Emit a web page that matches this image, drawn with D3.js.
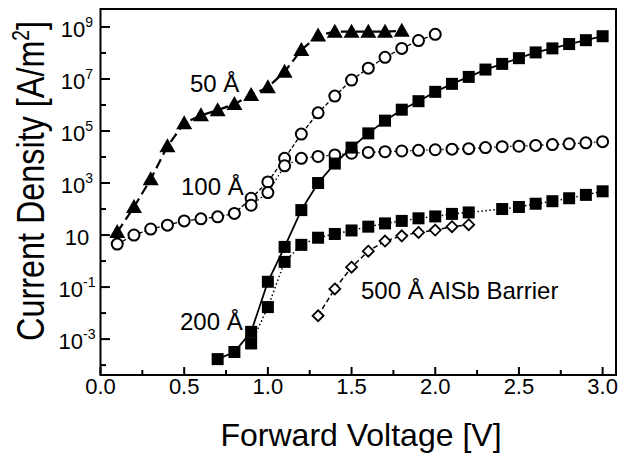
<!DOCTYPE html>
<html>
<head>
<meta charset="utf-8">
<script src="https://cdn.jsdelivr.net/npm/d3@7"></script>
<style>
  body { margin: 0; background: #fff; }
  svg { display: block; font-family: "Liberation Sans", Arial, sans-serif; }
</style>
</head>
<body>
<div id="chart"></div>
<script>
// 50 A barrier (filled triangles)
const v50 = [0.1, 0.2, 0.3, 0.4, 0.5, 0.6, 0.7, 0.8, 0.9, 1.0, 1.1, 1.2, 1.3, 1.4, 1.5, 1.6, 1.7, 1.8];
const j50 = [1.3e1, 1.2e2, 1.4e3, 2.6e4, 2.0e5, 4.0e5, 6.3e5, 1.1e6, 2.4e6, 4.8e6, 1.9e7, 1.3e8, 4.7e8, 6.6e8, 6.6e8, 6.6e8, 6.6e8, 7.1e8];

// 100 A barrier (open circles), rising branch and flat branch
const v100a = [0.1, 0.2, 0.3, 0.4, 0.5, 0.6, 0.7, 0.8, 0.9, 1.0, 1.1, 1.2, 1.3, 1.4, 1.5, 1.6, 1.7, 1.8, 1.9, 2.0];
const j100a = [4.5, 10, 17, 24, 35, 42, 50, 68, 2.6e2, 1.1e3, 8.9e3, 7.6e4, 5.0e5, 2.2e6, 9.1e6, 2.6e7, 6.8e7, 1.5e8, 3.0e8, 5.2e8];
const v100b = [0.9, 1.0, 1.1, 1.2, 1.3, 1.4, 1.5, 1.6, 1.7, 1.8, 1.9, 2.0, 2.1, 2.2, 2.3, 2.4, 2.5, 2.6, 2.7, 2.8, 2.9, 3.0];
const j100b = [1.4e2, 4.3e2, 4.6e3, 8.9e3, 1.05e4, 1.2e4, 1.4e4, 1.5e4, 1.6e4, 1.7e4, 1.8e4, 1.9e4, 2.0e4, 2.1e4, 2.3e4, 2.5e4, 2.6e4, 2.8e4, 3.0e4, 3.2e4, 3.5e4, 3.9e4];

// 200 A barrier (filled squares), rising branch and flat branch
const v200a = [0.7, 0.8, 0.9, 1.0, 1.1, 1.2, 1.3, 1.4, 1.5, 1.6, 1.7, 1.8, 1.9, 2.0, 2.1, 2.2, 2.3, 2.4, 2.5, 2.6, 2.7, 2.8, 2.9, 3.0];
const j200a = [1.7e-4, 3.2e-4, 1.9e-3, 1.6e-1, 3.5, 91, 1.0e3, 5.6e3, 2.3e4, 8.1e4, 2.5e5, 6.6e5, 1.4e6, 3.2e6, 6.5e6, 1.2e7, 2.3e7, 3.8e7, 6.3e7, 1.05e8, 1.5e8, 2.2e8, 3.1e8, 4.4e8];
const v200b = [0.9, 1.0, 1.1, 1.2, 1.3, 1.4, 1.5, 1.6, 1.7, 1.8, 1.9, 2.0, 2.1, 2.2, 2.4, 2.5, 2.6, 2.7, 2.8, 2.9, 3.0];
const j200b = [6.8e-4, 1.7e-2, 0.93, 4.2, 7.9, 11, 15, 21, 28, 35, 44, 52, 65, 74, 1.0e2, 1.2e2, 1.6e2, 2.0e2, 2.6e2, 3.5e2, 4.8e2];

// 500 A AlSb barrier (open diamonds)
const v500 = [1.3, 1.4, 1.5, 1.6, 1.7, 1.8, 1.9, 2.0, 2.1, 2.2];
const j500 = [7.9e-3, 8.5e-2, 0.58, 2.4, 5.9, 9.3, 12.6, 15.5, 21, 25];

const xTicks = [0, 0.5, 1.0, 1.5, 2.0, 2.5, 3.0];
const xMinor = [0.25, 0.75, 1.25, 1.75, 2.25, 2.75];
const yExps = [-3, -1, 1, 3, 5, 7, 9];
const yMinorExps = [-4, -2, 0, 2, 4, 6, 8];

const W = 621, H = 455;
const svg = d3.select("#chart").append("svg").attr("width", W).attr("height", H);

const x = d3.scaleLinear().domain([0, 3.08]).range([100.5, 616]);
const y = d3.scaleLog().domain([Math.pow(10, -4.38), Math.pow(10, 9.69)]).range([375, 9]);

const zip = (xs, ys) => xs.map((v, i) => ({ v: v, j: ys[i] }));
const line = d3.line().x(d => x(d.v)).y(d => y(d.j));

// connecting lines
const drawLine = (data, width, dash) => {
    svg.append("path")
        .datum(data)
        .attr("fill", "none")
        .attr("stroke", "#000")
        .attr("stroke-width", width)
        .attr("stroke-dasharray", dash)
        .attr("d", line);
};
drawLine(zip(v100b, j100b), 1.3, "1.5,2.5");
drawLine(zip(v100a, j100a), 1.3, "4,2");
drawLine(zip(v200b, j200b), 1.5, "1.5,2.5");
drawLine(zip(v200a, j200a), 1.8, null);
drawLine(zip(v500, j500), 1.5, "5,3");
drawLine(zip(v50, j50), 2.2, "10,5");

// markers
const tri = "M0,-8L8,6L-8,6Z";
svg.selectAll(".tri").data(zip(v50, j50)).enter().append("path")
    .attr("d", tri)
    .attr("transform", d => `translate(${x(d.v)},${y(d.j)})`)
    .attr("fill", "#000");

svg.selectAll(".circA").data(zip(v100a, j100a)).enter().append("circle")
    .attr("cx", d => x(d.v)).attr("cy", d => y(d.j)).attr("r", 5.5)
    .attr("fill", "#fff").attr("stroke", "#000").attr("stroke-width", 2);
svg.selectAll(".circB").data(zip(v100b, j100b)).enter().append("circle")
    .attr("cx", d => x(d.v)).attr("cy", d => y(d.j)).attr("r", 5.5)
    .attr("fill", "#fff").attr("stroke", "#000").attr("stroke-width", 2);

svg.selectAll(".sq").data(zip(v200a, j200a).concat(zip(v200b, j200b))).enter().append("rect")
    .attr("x", d => x(d.v) - 6).attr("y", d => y(d.j) - 6)
    .attr("width", 12).attr("height", 12)
    .attr("fill", "#000");

svg.selectAll(".dia").data(zip(v500, j500)).enter().append("path")
    .attr("d", "M0,-5.5L5.5,0L0,5.5L-5.5,0Z")
    .attr("transform", d => `translate(${x(d.v)},${y(d.j)})`)
    .attr("fill", "#fff").attr("stroke", "#000").attr("stroke-width", 1.8);

// frame
svg.append("rect")
    .attr("x", 100.5).attr("y", 9).attr("width", 515.5).attr("height", 366)
    .attr("fill", "none").attr("stroke", "#000").attr("stroke-width", 2);

// x ticks
const gx = svg.append("g");
xTicks.forEach(t => {
    gx.append("line").attr("x1", x(t)).attr("x2", x(t)).attr("y1", 375).attr("y2", 367)
        .attr("stroke", "#000").attr("stroke-width", 2);
    gx.append("text").attr("x", x(t)).attr("y", 394).attr("text-anchor", "middle")
        .style("font-size", "22px").text(d3.format(".1f")(t));
});
xMinor.forEach(t => {
    gx.append("line").attr("x1", x(t)).attr("x2", x(t)).attr("y1", 375).attr("y2", 370)
        .attr("stroke", "#000").attr("stroke-width", 2);
});

// y ticks
const gy = svg.append("g");
yExps.forEach(e => {
    const yy = y(Math.pow(10, e));
    gy.append("line").attr("x1", 100.5).attr("x2", 110).attr("y1", yy).attr("y2", yy)
        .attr("stroke", "#000").attr("stroke-width", 2);
    const t = gy.append("text").attr("x", 77).attr("y", yy + 10).attr("text-anchor", "middle")
        .style("font-size", "22px");
    t.append("tspan").text("10");
    if (e !== 1) {
        t.append("tspan").attr("dy", -10).style("font-size", "14px").text(e);
    }
});
yMinorExps.forEach(e => {
    const yy = y(Math.pow(10, e));
    gy.append("line").attr("x1", 100.5).attr("x2", 106).attr("y1", yy).attr("y2", yy)
        .attr("stroke", "#000").attr("stroke-width", 2);
});

// axis titles
svg.append("text").attr("x", 361).attr("y", 446).attr("text-anchor", "middle")
    .style("font-size", "32px").text("Forward Voltage [V]");

const yt = svg.append("text")
    .attr("transform", "translate(44,181) rotate(-90) scale(0.83,1)")
    .attr("text-anchor", "middle")
    .style("font-size", "39px");
yt.append("tspan").text("Current Density [A/m");
yt.append("tspan").attr("dy", -15).style("font-size", "23px").text("2");
yt.append("tspan").attr("dy", 15).text("]");

// curve labels
const labels = [
    { t: "50 Å", x: 190, y: 92 },
    { t: "100 Å", x: 181, y: 195 },
    { t: "200 Å", x: 180, y: 330 },
    { t: "500 Å AlSb Barrier", x: 361, y: 299 }
];
svg.selectAll(".lbl").data(labels).enter().append("text")
    .attr("x", d => d.x).attr("y", d => d.y)
    .style("font-size", "24px").text(d => d.t);
</script>
</body>
</html>
